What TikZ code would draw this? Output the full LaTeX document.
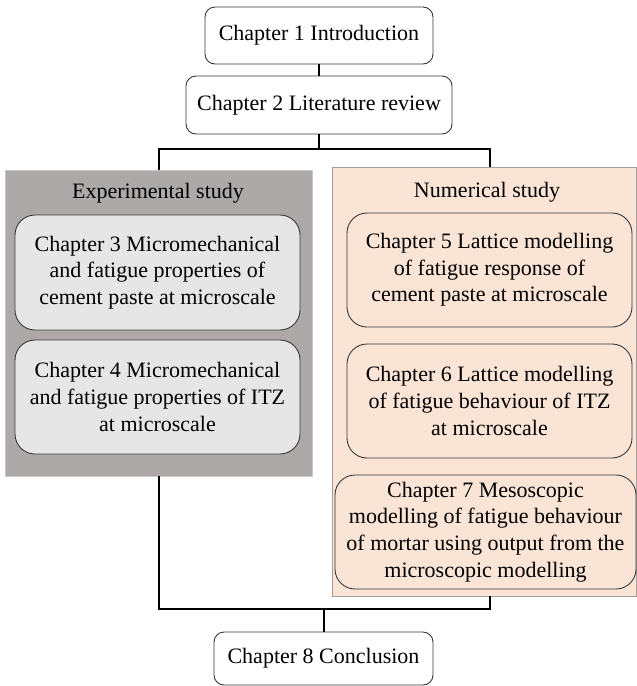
\documentclass[tikz,border=0pt]{standalone}
\usepackage{fontspec}
\setmainfont{Liberation Serif}
\usepackage{tikz}
\usetikzlibrary{positioning,calc}

\definecolor{expgray}{RGB}{172,169,168}
\definecolor{expedge}{RGB}{200,200,200}
\definecolor{chapgray}{RGB}{230,230,230}
\definecolor{numpeach}{RGB}{250,228,214}
\definecolor{numedge}{RGB}{165,158,154}
\definecolor{chapedge}{RGB}{55,55,55}

\begin{document}
\begin{tikzpicture}[
  x=1pt, y=1pt,
  chap/.style={draw=chapedge, line width=0.9pt, rounded corners=10pt,
               align=center, inner sep=0pt,
               font=\fontsize{22}{26.7}\selectfont},
  bigchap/.style={chap, rounded corners=20pt},
  panel/.style={inner sep=0pt, line width=0.8pt},
  title/.style={font=\fontsize{22}{26.7}\selectfont},
  link/.style={line width=2pt, black}
]
  \useasboundingbox (0,0) rectangle (637,-686);

  % Top chapters
  \node[chap, fill=white, minimum width=228, minimum height=57] (ch1) at (319,-35.5) {Chapter 1 Introduction};
  \node[chap, fill=white, minimum width=266, minimum height=58] (ch2) at (319,-105) {Chapter 2 Literature review};

  % Study panels
  \node[panel, draw=expedge, fill=expgray, minimum width=307, minimum height=306] (exp) at (158.5,-323) {};
  \node[panel, draw=numedge, fill=numpeach, minimum width=304, minimum height=429] (num) at (484.5,-381.5) {};
  \node[title] (exptitle) at (158,-193) {Experimental study};
  \node[title] (numtitle) at (487,-192) {Numerical study};

  % Experimental chapters
  \node[bigchap, fill=chapgray, minimum width=285, minimum height=115] (ch3) at (157.5,-272.5)
    {Chapter 3 Micromechanical\\and fatigue properties of\\cement paste at microscale};
  \node[bigchap, fill=chapgray, minimum width=285, minimum height=114] (ch4) at (157.5,-397)
    {Chapter 4 Micromechanical\\and fatigue properties of ITZ\\at microscale};

  % Numerical chapters
  \node[bigchap, fill=numpeach, minimum width=285, minimum height=114] (ch5) at (489.5,-270)
    {Chapter 5 Lattice modelling\\of fatigue response of\\cement paste at microscale};
  \node[bigchap, fill=numpeach, minimum width=285, minimum height=114] (ch6) at (489.5,-401)
    {Chapter 6 Lattice modelling\\of fatigue behaviour of ITZ\\at microscale};
  \node[bigchap, fill=numpeach, minimum width=301, minimum height=114] (ch7) at (485.5,-532)
    {Chapter 7 Mesoscopic\\modelling of fatigue behaviour\\of mortar using output from the\\microscopic modelling};

  % Conclusion
  \node[chap, fill=white, minimum width=219, minimum height=53] (ch8) at (323.5,-658.5) {Chapter 8 Conclusion};

  % Connectors
  \coordinate (split) at (319,-149);
  \coordinate (merge) at (323.5,-609);
  \draw[link] (ch1) -- (ch2);
  \draw[link] (ch2) -- (split);
  \draw[link] (exp.north) |- (split) -| (ch5 |- num.north);
  \draw[link] (exp.south) |- (merge) -| (ch5 |- num.south);
  \draw[link] (merge) -- (ch8);
\end{tikzpicture}
\end{document}
